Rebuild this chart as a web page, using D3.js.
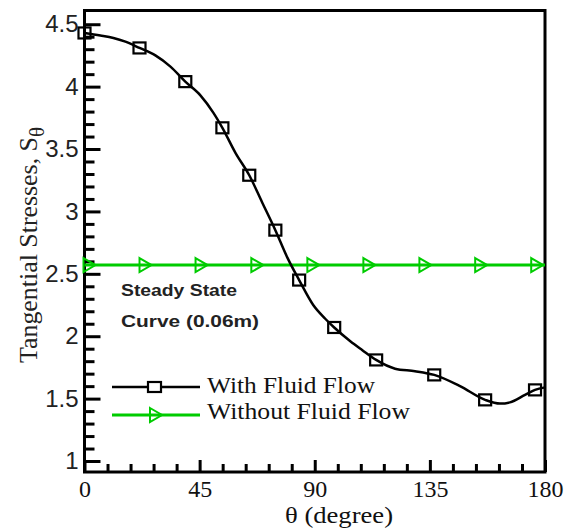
<!DOCTYPE html>
<html><head><meta charset="utf-8">
<script src="https://cdn.jsdelivr.net/npm/d3@7/dist/d3.min.js"></script>
<style>body{margin:0;background:#fff}</style>
</head><body><svg id="c" width="579" height="529"></svg>
<script>
// With fluid flow: traced curve (theta in degree, tangential stress)
const curveTheta = [0, 6.2, 11.3, 16.0, 21.5, 27.7, 33.6, 39.4, 45.3, 50.4, 53.9, 59.0, 64.4, 69.5, 74.6, 79.3, 83.9, 89.4, 94.1, 97.6, 103.9, 108.5, 114.0, 121.4, 129.2, 136.7, 146.8, 156.6, 162.4, 166.3, 172.2, 176.1, 180];
const curveS     = [4.43, 4.41, 4.39, 4.36, 4.31, 4.25, 4.16, 4.04, 3.93, 3.79, 3.67, 3.47, 3.29, 3.07, 2.85, 2.63, 2.45, 2.25, 2.14, 2.07, 1.96, 1.89, 1.81, 1.74, 1.72, 1.69, 1.60, 1.49, 1.46, 1.47, 1.53, 1.57, 1.59];
// With fluid flow: marker points
const markTheta = [0, 21.5, 39.4, 53.9, 64.4, 74.6, 83.9, 97.6, 114.0, 136.7, 156.6, 176.1];
const markS     = [4.43, 4.31, 4.04, 3.67, 3.29, 2.85, 2.45, 2.07, 1.81, 1.69, 1.49, 1.57];
// Without fluid flow (steady state)
const steadyLineTheta = [0, 180];
const steadyLineS     = [2.57, 2.57];
const steadyTheta = [0, 21.9, 43.8, 65.6, 87.5, 109.4, 131.3, 153.1, 175];
const steadyS     = [2.57, 2.57, 2.57, 2.57, 2.57, 2.57, 2.57, 2.57, 2.57];
// Axes
const xTicks = [0, 45, 90, 135, 180];
const xTickLabels = ["0", "45", "90", "135", "180"];
const yTicks = [1, 1.5, 2, 2.5, 3, 3.5, 4, 4.5];
const yTickLabels = ["1", "1.5", "2", "2.5", "3", "3.5", "4", "4.5"];
const seriesNames = ["With Fluid Flow", "Without Fluid Flow"];
const noteLines = ["Steady State", "Curve (0.06m)"];
const xTitle = "θ (degree)";
const yTitle = "Tangential Stresses, S";
const yTitleSub = "θ";

const GREEN = "#00cc00";
const svg = d3.select("#c");
const x = d3.scaleLinear().domain([0, 180]).range([84.5, 545]);
const y = d3.scaleLinear().domain([0.912, 4.61]).range([472, 10.5]);

const xMinor = d3.range(0, 181, 9).filter(v => !xTicks.includes(v));
const yMinor = d3.range(10, 46, 1).map(v => v / 10).filter(v => !yTicks.includes(v));

// minor ticks
svg.append("g").attr("transform", "translate(0,472)")
  .call(d3.axisBottom(x).tickValues(xMinor).tickSize(-8).tickFormat(""))
  .call(g => g.select(".domain").remove())
  .call(g => g.selectAll("line").attr("stroke", "#000").attr("stroke-width", 3));
svg.append("g").attr("transform", "translate(84.5,0)")
  .call(d3.axisLeft(y).tickValues(yMinor).tickSize(-10).tickFormat(""))
  .call(g => g.select(".domain").remove())
  .call(g => g.selectAll("line").attr("stroke", "#000").attr("stroke-width", 3));

// major ticks
svg.append("g").attr("transform", "translate(0,472)")
  .call(d3.axisBottom(x).tickValues(xTicks).tickSize(-12).tickPadding(8)
    .tickFormat((d, i) => xTickLabels[i]))
  .call(g => g.select(".domain").remove())
  .call(g => g.selectAll("line").attr("stroke", "#000").attr("stroke-width", 3))
  .call(g => g.selectAll("text").attr("font-family", "Liberation Serif").attr("font-size", 24).attr("fill", "#111"));
svg.append("g").attr("transform", "translate(84.5,0)")
  .call(d3.axisLeft(y).tickValues(yTicks).tickSize(-16).tickPadding(6)
    .tickFormat((d, i) => yTickLabels[i]))
  .call(g => g.select(".domain").remove())
  .call(g => g.selectAll("line").attr("stroke", "#000").attr("stroke-width", 3))
  .call(g => g.selectAll("text").attr("font-family", "Liberation Sans").attr("font-size", 24).attr("fill", "#222"));

// frame
svg.append("rect").attr("x", x(0)).attr("y", y(4.61)).attr("width", x(180) - x(0)).attr("height", y(0.912) - y(4.61))
  .attr("fill", "none").attr("stroke", "#000").attr("stroke-width", 3);

// steady line
const line = d3.line().x(d => x(d[0])).y(d => y(d[1]));
svg.append("path").datum(steadyLineTheta.map((t, i) => [t, steadyLineS[i]]))
  .attr("d", line).attr("fill", "none").attr("stroke", GREEN).attr("stroke-width", 3);
const tri = "M0,-7L12,0L0,7Z";
svg.append("g").selectAll("path").data(steadyTheta.map((t, i) => [t, steadyS[i]])).join("path")
  .attr("transform", d => `translate(${x(d[0]) - 1},${y(d[1])})`)
  .attr("d", tri).attr("fill", "none").attr("stroke", GREEN).attr("stroke-width", 2);

// fluid flow curve
const smooth = d3.line().x(d => x(d[0])).y(d => y(d[1])).curve(d3.curveMonotoneX);
svg.append("path").datum(curveTheta.map((t, i) => [t, curveS[i]]))
  .attr("d", smooth).attr("fill", "none").attr("stroke", "#000").attr("stroke-width", 2.5);
svg.append("g").selectAll("rect").data(markTheta.map((t, i) => [t, markS[i]])).join("rect")
  .attr("x", d => x(d[0]) - 6).attr("y", d => y(d[1]) - 5.5).attr("width", 12).attr("height", 11)
  .attr("fill", "none").attr("stroke", "#000").attr("stroke-width", 2.2);

// note
noteLines.forEach((t, i) => {
  svg.append("text").attr("x", 121).attr("y", [296, 327][i])
    .attr("font-family", "Liberation Sans").attr("font-size", 17).attr("font-weight", "bold").attr("fill", "#222")
    .attr("textLength", [116, 138][i]).attr("lengthAdjust", "spacingAndGlyphs").text(t);
});

// legend
const lg = svg.append("g");
lg.append("line").attr("x1", 112).attr("x2", 200).attr("y1", 387).attr("y2", 387).attr("stroke", "#000").attr("stroke-width", 2.5);
lg.append("rect").attr("x", 148).attr("y", 382).attr("width", 13).attr("height", 10).attr("fill", "#fff").attr("stroke", "#000").attr("stroke-width", 2.2);
lg.append("line").attr("x1", 112).attr("x2", 200).attr("y1", 415).attr("y2", 415).attr("stroke", GREEN).attr("stroke-width", 3);
lg.append("path").attr("transform", "translate(150,415)").attr("d", tri).attr("fill", "none").attr("stroke", GREEN).attr("stroke-width", 2);
seriesNames.forEach((t, i) => {
  lg.append("text").attr("x", 207).attr("y", [393, 419][i])
    .attr("font-family", "Liberation Serif").attr("font-size", 23).attr("fill", "#111")
    .attr("textLength", [168, 203][i]).attr("lengthAdjust", "spacingAndGlyphs").text(t);
});

// axis titles
svg.append("text").attr("x", 285).attr("y", 523)
  .attr("font-family", "Liberation Serif").attr("font-size", 24).attr("fill", "#111")
  .attr("textLength", 108).attr("lengthAdjust", "spacingAndGlyphs").text(xTitle);
const yt = svg.append("text").attr("transform", "translate(37,363) rotate(-90)")
  .attr("font-family", "Liberation Serif").attr("font-size", 26).attr("fill", "#222");
yt.append("tspan").attr("textLength", 226).attr("lengthAdjust", "spacingAndGlyphs").text(yTitle);
yt.append("tspan").attr("font-size", 21).attr("dy", 7).text(yTitleSub);
</script></body></html>
